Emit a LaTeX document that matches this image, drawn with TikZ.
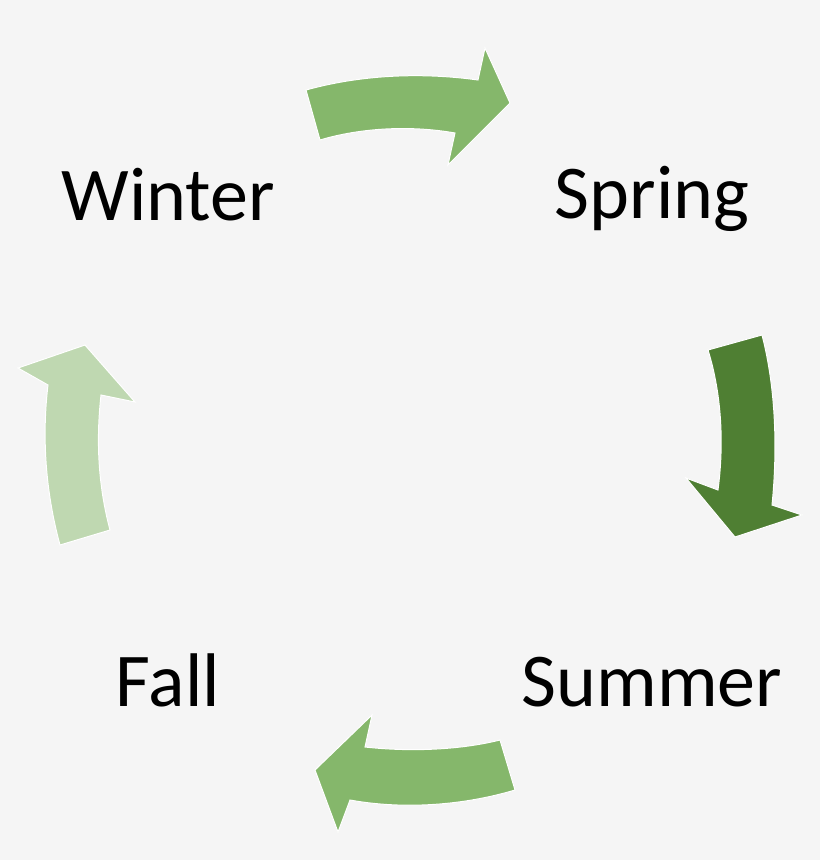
\documentclass[tikz,border=0pt]{standalone}
\usepackage{fontspec}
\setmainfont{Carlito}
\begin{document}
\begin{tikzpicture}[x=1pt,y=-1pt]
\definecolor{bg}{HTML}{F5F5F5}
\definecolor{mid}{HTML}{85B76B}
\definecolor{dark}{HTML}{4F7F33}
\definecolor{light}{HTML}{BFD8B1}
\tikzset{lbl/.style={font=\fontsize{76}{84}\selectfont,text=black}}
\fill[bg] (0,0) rectangle (820,860);
\node[lbl] (w) at (168,195) {Winter};
\node[lbl] (s) at (652,199) {Spring};
\node[lbl] (su) at (652,682) {Summer};
\node[lbl] (f) at (168,680) {Fall};
% top
\fill[mid,draw=white,line width=1pt] (306,90) .. controls (360,75) and (420,72) .. (478,80)
  -- (485,48) -- (510,103) -- (448,165) -- (455,133)
  .. controls (410,125) and (360,128) .. (320,140) -- cycle;
% right
\fill[dark,draw=white,line width=1pt] (708,350) .. controls (722,395) and (724,445) .. (718,490)
  -- (686,478) -- (735,537) -- (802,515) -- (772,505)
  .. controls (778,445) and (775,385) .. (762,335) -- cycle;
% bottom
\fill[mid,draw=white,line width=1pt] (515,790) .. controls (465,805) and (405,810) .. (350,800)
  -- (338,832) -- (315,770) -- (372,715) -- (365,747)
  .. controls (410,752) and (460,750) .. (500,740) -- cycle;
% left
\fill[light,draw=white,line width=1pt] (60,545) .. controls (45,490) and (42,435) .. (48,385)
  -- (18,368) -- (85,345) -- (135,402) -- (101,395)
  .. controls (96,440) and (98,485) .. (110,530) -- cycle;
\end{tikzpicture}
\end{document}
